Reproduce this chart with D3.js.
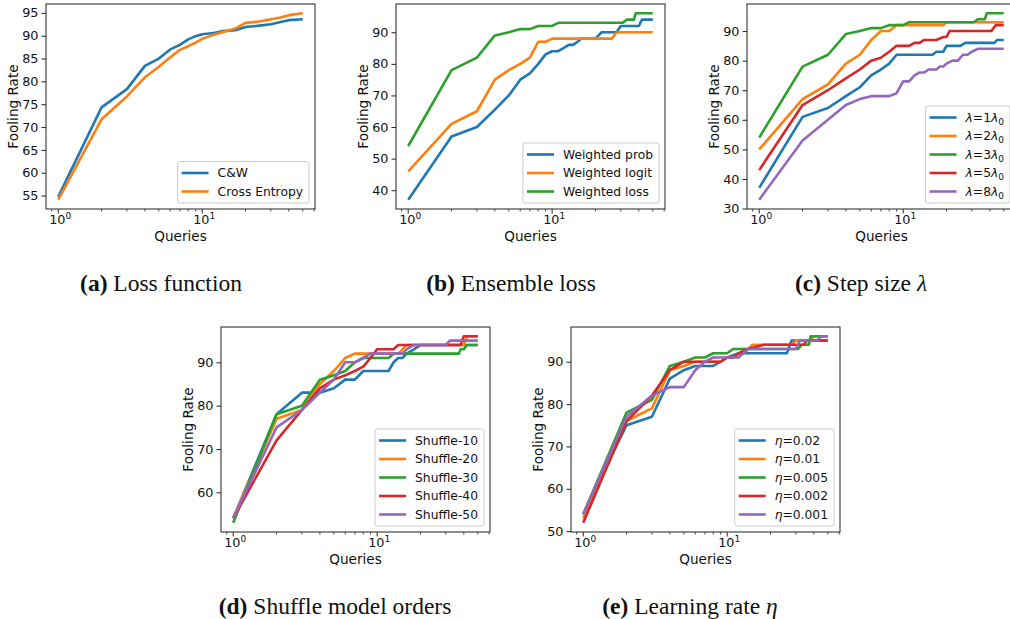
<!DOCTYPE html>
<html>
<head>
<meta charset="utf-8">
<script src="https://cdn.jsdelivr.net/npm/d3@7"></script>
<style>
  body { margin: 0; background: #fff; }
  svg { display: block; }
  text { font-family: "DejaVu Sans", sans-serif; fill: #111; }
  .caption { font-family: "Liberation Serif", "Times New Roman", serif; font-size: 23.5px; }
</style>
</head>
<body>
<div id="chart"></div>
<script>
////////////////////////////////////////////////////////////////////////
// Data: [queries, fooling rate]

// (a) loss function
const cwPts = [[1,54.7],[2,74.3],[3,78.3],[4,83.4],[5,85],[6,87],[7,88],[8,89.2],[9,89.9],[10,90.3],
  [12,90.6],[14,91],[17,91.2],[20,91.9],[25,92.2],[30,92.5],[35,93],[40,93.4],[50,93.6]];
const cePts = [[1,54.1],[2,71.7],[3,76.7],[4,80.9],[5,83.2],[6,85.3],[7,86.9],[8,87.7],[9,88.5],[10,89.3],
  [12,90.2],[14,90.8],[17,91.6],[20,92.8],[25,93.1],[30,93.6],[35,94],[40,94.5],[50,94.9]];

// (b) ensemble loss
const wProbPts = [[1,37],[2,57],[3,60],[4,65.5],[5,70],[6,75],[7,77],[8,80],[9,83],[10,84],[11,84],
  [12,85],[13,86],[14,86],[15,87],[16,88],[20,88],[21,89],[22,90],[28,90],[30,92],[40,92],[42,94],[50,94]];
const wLogitPts = [[1,46],[2,61],[3,65],[4,75],[5,78],[6,80],[7,82],[8,87],[9,87],[10,88],[26,88],[28,90],[50,90]];
const wLossPts = [[1,54],[2,78],[3,82],[4,89],[5,90],[6,91],[7,91],[8,92],[10,92],[11,93],[31,93],[33,94],
  [37,94],[38,96],[50,96]];

// (c) step size
const lam1Pts = [[1,37],[2,61],[3,64],[4,68],[5,71],[6,75],[7,77],[8,79],[9,82],[16,82],[17,83],[19,83],
  [20,85],[25,85],[27,86],[43,86],[45,87],[50,87]];
const lam2Pts = [[1,50],[2,67],[3,72],[4,79],[5,82],[6,87],[7,90],[8,90],[9,92],[19,92],[20,93],[50,93]];
const lam3Pts = [[1,54],[2,78],[3,82],[4,89],[5,90],[6,91],[7,91],[8,92],[10,92],[11,93],[31,93],[33,94],
  [37,94],[38,96],[50,96]];
const lam5Pts = [[1,43],[2,65],[3,70],[4,74],[5,77],[6,80],[7,81],[8,83],[9,85],[11,85],[12,86],[13,86],
  [14,87],[17,87],[19,88],[20,88],[21,90],[41,90],[44,92],[50,92]];
const lam8Pts = [[1,33],[2,53],[3,60],[4,65],[5,67],[6,68],[8,68],[9,69],[10,73],[11,73],[12,75],[13,76],
  [14,76],[15,77],[17,77],[18,78],[19,78],[20,79],[22,80],[24,80],[26,82],[28,82],[30,83],[33,84],[50,84]];

// (d) shuffle model orders
const shuf10Pts = [[1,54],[2,78],[3,83],[4,83],[5,84],[6,86],[7,86],[8,88],[12,88],[13,90],[14,91],[15,91],
  [16,92],[18,93],[20,94],[50,94]];
const shuf20Pts = [[1,54],[2,77],[3,79],[4,85],[5,88],[6,91],[7,92],[14,92],[15,93],[16,94],[40,94],[42,96],[50,96]];
const shuf30Pts = [[1,53],[2,78],[3,80],[4,86],[5,87],[6,88],[7,90],[8,91],[12,91],[13,92],[37,92],[38,93],
  [40,93],[42,94],[50,94]];
const shuf40Pts = [[1,54],[2,72],[3,79],[4,84],[5,86],[6,87],[7,88],[8,89],[9,91],[10,93],[13,93],[14,94],
  [38,94],[40,96],[50,96]];
const shuf50Pts = [[1,54],[2,75],[3,79],[4,83],[5,86],[6,90],[7,90],[8,91],[9,92],[15,92],[16,93],[18,94],
  [30,94],[32,95],[50,95]];

// (e) learning rate
const eta1Pts = [[1,54],[2,75],[3,77],[4,86],[5,88],[6,89],[8,89],[9,90],[10,91],[12,92],[26,92],[28,95],[50,95]];
const eta2Pts = [[1,53],[2,76],[3,79],[4,88],[5,89],[6,90],[9,90],[10,91],[11,91],[12,92],[13,92],[14,93],
  [15,94],[28,94],[30,95],[38,95],[40,96],[50,96]];
const eta3Pts = [[1,54],[2,78],[3,81],[4,89],[5,90],[6,91],[7,91],[8,92],[10,92],[11,93],[31,93],[33,94],
  [37,94],[38,96],[50,96]];
const eta4Pts = [[1,52],[2,76],[3,82],[4,88],[5,90],[9,90],[10,91],[11,91],[12,92],[14,93],[18,94],[34,94],
  [36,95],[50,95]];
const eta5Pts = [[1,54],[2,77],[3,82],[4,84],[5,84],[6,88],[7,90],[8,91],[12,91],[14,93],[30,93],[31,94],
  [32,95],[42,95],[45,96],[50,96]];

const colors = ["#1f77b4", "#ff7f0e", "#2ca02c", "#d62728", "#9467bd"];

// Legend labels; parts are [text, style] where style is "i" (italic) or "sub"
const lossLabels = [[["C&W"]], [["Cross Entropy"]]];
const ensLabels = [[["Weighted prob"]], [["Weighted logit"]], [["Weighted loss"]]];
const lamLabels = [1, 2, 3, 5, 8].map(k => [["λ","i"],["=" + k],["λ","i"],["0","sub"]]);
const shufLabels = [10, 20, 30, 40, 50].map(k => [["Shuffle-" + k]]);
const etaLabels = ["0.02", "0.01", "0.005", "0.002", "0.001"].map(k => [["η","i"],["=" + k]]);

const lossTicks = [55, 60, 65, 70, 75, 80, 85, 90, 95];
const ensTicks = [40, 50, 60, 70, 80, 90];
const lamTicks = [30, 40, 50, 60, 70, 80, 90];
const shufTicks = [60, 70, 80, 90];
const etaTicks = [50, 60, 70, 80, 90];

////////////////////////////////////////////////////////////////////////
// Layout

const W = 1010, H = 619;
const pw = 269, ph = 205;

const panels = [
  { left: 46,  top: 4,   series: [cwPts, cePts], labels: lossLabels, ticks: lossTicks,
    cap: ["(a)", " Loss function"], capX: 161, capY: 291 },
  { left: 396, top: 4,   series: [wProbPts, wLogitPts, wLossPts], labels: ensLabels, ticks: ensTicks,
    cap: ["(b)", " Ensemble loss"], capX: 511, capY: 291 },
  { left: 747, top: 4,   series: [lam1Pts, lam2Pts, lam3Pts, lam5Pts, lam8Pts], labels: lamLabels, ticks: lamTicks,
    cap: ["(c)", " Step size ", "λ"], capX: 861, capY: 291 },
  { left: 221, top: 327, series: [shuf10Pts, shuf20Pts, shuf30Pts, shuf40Pts, shuf50Pts], labels: shufLabels, ticks: shufTicks,
    cap: ["(d)", " Shuffle model orders"], capX: 335, capY: 614 },
  { left: 571, top: 327, series: [eta1Pts, eta2Pts, eta3Pts, eta4Pts, eta5Pts], labels: etaLabels, ticks: etaTicks,
    cap: ["(e)", " Learning rate ", "η"], capX: 690, capY: 614 }
];

const svg = d3.select("#chart").append("svg")
  .attr("width", W)
  .attr("height", H);

// write a label made of parts into a text element
function writeParts(txt, parts) {
  parts.forEach(p => {
    const t = txt.append("tspan").text(p[0]);
    if (p[1] === "i") t.style("font-style", "italic");
    if (p[1] === "sub") t.attr("dy", 3).style("font-size", "9px");
  });
}

panels.forEach(p => {
  const all = p.series.flat();
  const qMin = d3.min(all, d => d[0]), qMax = d3.max(all, d => d[0]);
  const vMin = d3.min(all, d => d[1]), vMax = d3.max(all, d => d[1]);
  // matplotlib style 5% margins (log space for x)
  const lpad = (Math.log10(qMax) - Math.log10(qMin)) * 0.05;
  const vpad = (vMax - vMin) * 0.05;

  const x = d3.scaleLog()
    .domain([qMin / Math.pow(10, lpad), qMax * Math.pow(10, lpad)])
    .range([p.left, p.left + pw]);
  const y = d3.scaleLinear()
    .domain([vMin - vpad, vMax + vpad])
    .range([p.top + ph, p.top]);

  const g = svg.append("g");

  // clip lines to the axes box
  const clipId = "clip" + p.left + "_" + p.top;
  g.append("clipPath").attr("id", clipId)
    .append("rect")
    .attr("x", p.left).attr("y", p.top).attr("width", pw).attr("height", ph);

  const line = d3.line()
    .x(d => x(d[0]))
    .y(d => y(d[1]));

  g.append("g").attr("clip-path", `url(#${clipId})`)
    .selectAll("path")
    .data(p.series)
    .join("path")
    .attr("d", line)
    .attr("fill", "none")
    .attr("stroke", (d, i) => colors[i])
    .attr("stroke-width", 2.6)
    .attr("stroke-linejoin", "round");

  // y axis
  const yAxis = d3.axisLeft(y).tickValues(p.ticks).tickSize(4.5).tickPadding(3);
  const ya = g.append("g")
    .attr("transform", `translate(${p.left},0)`)
    .call(yAxis);
  ya.select(".domain").remove();
  ya.selectAll("line").attr("stroke", "#222").attr("stroke-width", 1);
  ya.selectAll("text").style("font-family", "DejaVu Sans").style("font-size", "12.8px").attr("fill", "#111");

  // x axis: major + minor log ticks
  const major = [1, 10];
  const minor = [];
  [0.1, 1, 10].forEach(dec => {
    for (let k = 2; k <= 9; k++) {
      const v = dec * k;
      if (v >= x.domain()[0] && v <= x.domain()[1]) minor.push(v);
    }
  });
  const xa = g.append("g").attr("transform", `translate(0,${p.top + ph})`);
  xa.selectAll(".minor").data(minor).join("line")
    .attr("x1", d => x(d)).attr("x2", d => x(d))
    .attr("y1", 0).attr("y2", 2.6)
    .attr("stroke", "#222").attr("stroke-width", 0.8);
  xa.selectAll(".major").data(major).join("line")
    .attr("x1", d => x(d)).attr("x2", d => x(d))
    .attr("y1", 0).attr("y2", 4.5)
    .attr("stroke", "#222").attr("stroke-width", 1);
  xa.selectAll(".mlab").data(major).join("text")
    .attr("x", d => x(d) + 2)
    .attr("y", 14.5)
    .attr("text-anchor", "middle")
    .style("font-size", "12.8px")
    .each(function(d) {
      const t = d3.select(this);
      t.append("tspan").text("10");
      t.append("tspan").attr("dy", -5).style("font-size", "9px").text(String(Math.round(Math.log10(d))));
    });

  // frame
  g.append("rect")
    .attr("x", p.left).attr("y", p.top)
    .attr("width", pw).attr("height", ph)
    .attr("fill", "none")
    .attr("stroke", "#333")
    .attr("stroke-width", 1.1);

  // axis labels
  g.append("text")
    .attr("x", p.left + pw / 2)
    .attr("y", p.top + ph + 32)
    .attr("text-anchor", "middle")
    .style("font-size", "13.6px")
    .text("Queries");
  g.append("text")
    .attr("transform", `translate(${p.left - 28},${p.top + ph / 2}) rotate(-90)`)
    .attr("text-anchor", "middle")
    .style("font-size", "13.6px")
    .text("Fooling Rate");

  // legend, lower right
  const n = p.labels.length;
  const sp = 18.5;
  const lg = g.append("g");
  const box = lg.append("rect");
  const rows = lg.selectAll("g").data(p.labels).join("g");
  rows.append("line")
    .attr("x1", 0).attr("x2", 27)
    .attr("y1", (d, i) => i * sp).attr("y2", (d, i) => i * sp)
    .attr("stroke", (d, i) => colors[i])
    .attr("stroke-width", 2.6);
  const texts = rows.append("text")
    .attr("x", 36)
    .attr("y", (d, i) => i * sp)
    .attr("dy", "0.36em")
    .style("font-size", "12.3px")
    .each(function(d) { writeParts(d3.select(this), d); });
  let maxLen = 0;
  texts.each(function() { maxLen = Math.max(maxLen, this.getComputedTextLength()); });
  const bw = 4 + 36 + maxLen + 6;
  const bh = (n - 1) * sp + 23;
  const bx = p.left + pw - 6 - bw;
  const by = p.top + ph - 6 - bh;
  box.attr("x", -4).attr("y", -11.5)
    .attr("width", bw).attr("height", bh)
    .attr("rx", 2)
    .attr("fill", "#fff").attr("fill-opacity", 0.8)
    .attr("stroke", "#cccccc").attr("stroke-width", 1);
  lg.attr("transform", `translate(${bx + 4},${by + 11.5})`);

  // caption
  const cap = svg.append("text")
    .attr("class", "caption")
    .attr("x", p.capX)
    .attr("y", p.capY)
    .attr("text-anchor", "middle");
  cap.append("tspan").style("font-weight", "bold").text(p.cap[0]);
  cap.append("tspan").text(p.cap[1]);
  if (p.cap[2]) cap.append("tspan").style("font-style", "italic").text(p.cap[2]);
});
</script>
</body>
</html>
